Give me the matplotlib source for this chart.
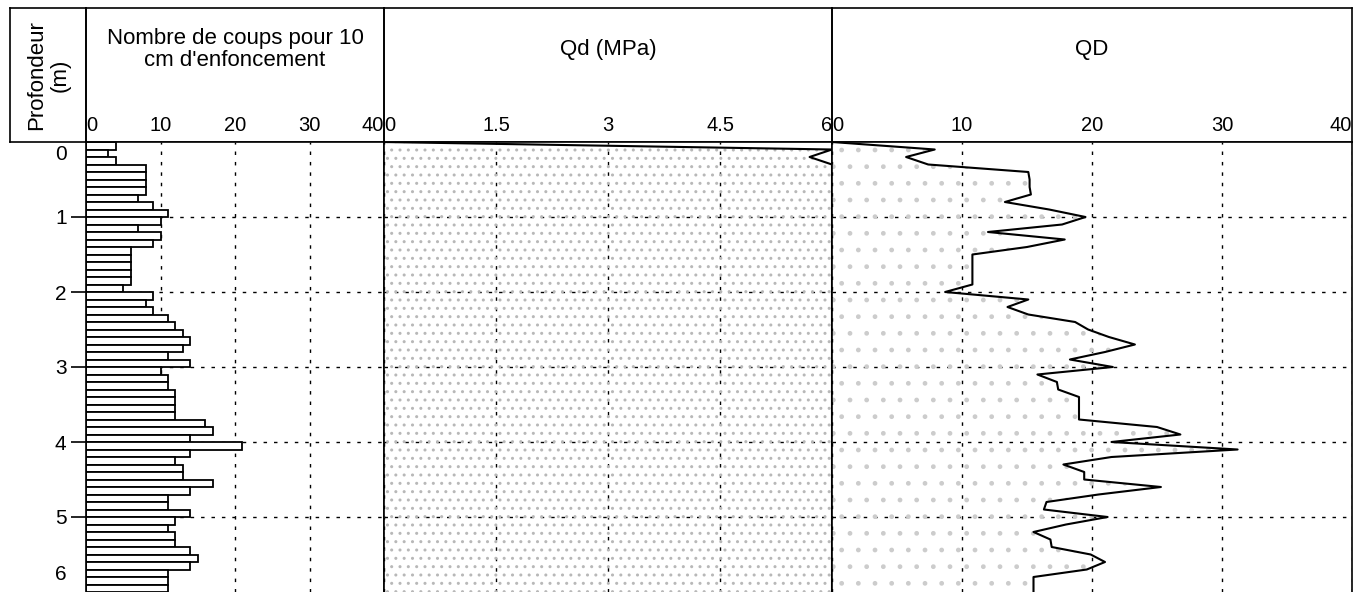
import numpy as np
import matplotlib
matplotlib.use("Agg")
from matplotlib import pyplot as plt

plt.rcParams['font.family'] = ['Liberation Sans', 'DejaVu Sans']

# profondeur (m), un point tous les 10 cm
depth = np.round(np.arange(61) * 0.1, 1)

# nombre de coups pour 10 cm (tranche depth[i] -> depth[i+1])
coups = [4, 3, 4, 8, 8, 8, 8, 7, 9, 11,
         10, 7, 10, 9, 6, 6, 6, 6, 6, 5,
         9, 8, 9, 11, 12, 13, 14, 13, 11, 14,
         10, 11, 11, 12, 12, 12, 12, 16, 17, 14,
         21, 14, 12, 13, 13, 17, 14, 11, 11, 14,
         12, 11, 12, 12, 14, 15, 14, 11, 11, 11]

# resistance dynamique (meme courbe dans Qd et QD)
qd = [0, 7.9, 5.7, 7.4, 15.1, 15.2, 15.2, 15.3, 13.3, 16.7,
      19.5, 17.7, 12.0, 17.9, 15.0, 10.8, 10.8, 10.8, 10.8, 10.8,
      8.7, 15.1, 13.5, 15.1, 18.7, 19.7, 21.3, 23.3, 21.0, 18.3,
      21.6, 15.8, 17.3, 17.4, 19.0, 19.0, 19.0, 19.0, 25.0, 26.8,
      21.5, 31.2, 21.5, 17.8, 19.4, 19.4, 25.3, 20.5, 16.5, 16.3,
      21.2, 18.0, 15.5, 16.8, 16.9, 19.9, 21.0, 19.6, 15.5, 15.5, 15.5]

ticks_coups = [0, 10, 20, 30, 40]
ticks_qd_mpa = [0, 1.5, 3, 4.5, 6]
ticks_qd = [0, 10, 20, 30, 40]
depth_ticks = [1, 2, 3, 4, 5]

W, H = 1358, 592
fig = plt.figure(figsize=(W / 100, H / 100), dpi=100)


def rect(x0, x1, y0, y1):
    # pixels -> coordonnees figure
    return [x0 / W, 1 - y1 / H, (x1 - x0) / W, (y1 - y0) / H]


TOP, AX_TOP, BOT = 8, 142, 592
cols = [(86, 384), (384, 832), (832, 1352)]
titles = ["Nombre de coups pour 10\ncm d'enfoncement", "Qd (MPa)", "QD"]
FS = 16
SPW = 1.2
grid_kw = dict(color='black', lw=1.0, linestyle=(0, (2.5, 5)))

# entetes
hd = fig.add_axes(rect(10, 86, TOP, AX_TOP))
hd.text(0.5, 0.5, "Profondeur\n(m)", rotation=90, ha='center', va='center',
        fontsize=FS, transform=hd.transAxes, linespacing=1.15)
heads = [hd]
for (x0, x1), t in zip(cols, titles):
    h = fig.add_axes(rect(x0, x1, TOP, AX_TOP))
    h.text(0.5, 0.69, t, ha='center', va='center', fontsize=FS,
           transform=h.transAxes, linespacing=1.05)
    heads.append(h)
for h in heads:
    h.set_xticks([])
    h.set_yticks([])
    h.patch.set_alpha(0)
    for s in h.spines.values():
        s.set_linewidth(SPW)

axes = [fig.add_axes(rect(x0, x1, AX_TOP, BOT)) for x0, x1 in cols]
ax1, ax2, ax3 = axes

# panneau 1 : barres
ax1.barh(depth[:-1], coups, height=0.1, align='edge', color='white',
         edgecolor='black', linewidth=1.3, zorder=2)
ax1.set_xlim(0, 40)
ax1.set_xticks(ticks_coups)

# panneau 2 : Qd (MPa), echelle 0-6, valeurs ecretees au max de l'echelle
qd_mpa = np.minimum(qd, 6)
ax2.fill_betweenx(depth, 0, qd_mpa, facecolor='none', edgecolor='#b8b8b8',
                  hatch='..', linewidth=0, zorder=1)
ax2.plot(qd_mpa, depth, color='black', lw=1.5, zorder=3)
ax2.set_xlim(0, 6)
ax2.set_xticks(ticks_qd_mpa)

# panneau 3 : QD
ax3.fill_betweenx(depth, 0, qd, facecolor='none', edgecolor='#cccccc',
                  hatch='.', linewidth=0, zorder=1)
ax3.plot(qd, depth, color='black', lw=1.5, zorder=3)
ax3.set_xlim(0, 40)
ax3.set_xticks(ticks_qd)

for ax, labels in zip(axes, [ticks_coups, ticks_qd_mpa, ticks_qd]):
    ax.set_ylim(6, 0)
    ax.xaxis.tick_top()
    ax.tick_params(axis='x', length=0, pad=5, labelsize=14.5)
    lbls = ax.set_xticklabels([f"{v:g}" for v in labels])
    lbls[0].set_ha('left')
    lbls[-1].set_ha('right')
    ax.set_yticks(depth_ticks)
    ax.grid(True, **grid_kw)
    ax.set_axisbelow(True)
    ax.spines['bottom'].set_visible(False)
    for s in ['left', 'right', 'top']:
        ax.spines[s].set_linewidth(SPW)

ax1.tick_params(axis='y', direction='out', length=11, width=1.2, pad=3,
                labelsize=15)
for ax in (ax2, ax3):
    ax.tick_params(axis='y', length=0, labelleft=False)

# etiquettes 0 et 6 decalees dans le cadre
ytr = ax1.get_yaxis_transform()
ax1.text(-0.065, 0.17, "0", ha='right', va='center', fontsize=15, transform=ytr)
ax1.text(-0.065, 5.77, "6", ha='right', va='center', fontsize=15, transform=ytr)

fig.savefig("out.png", dpi=100)
